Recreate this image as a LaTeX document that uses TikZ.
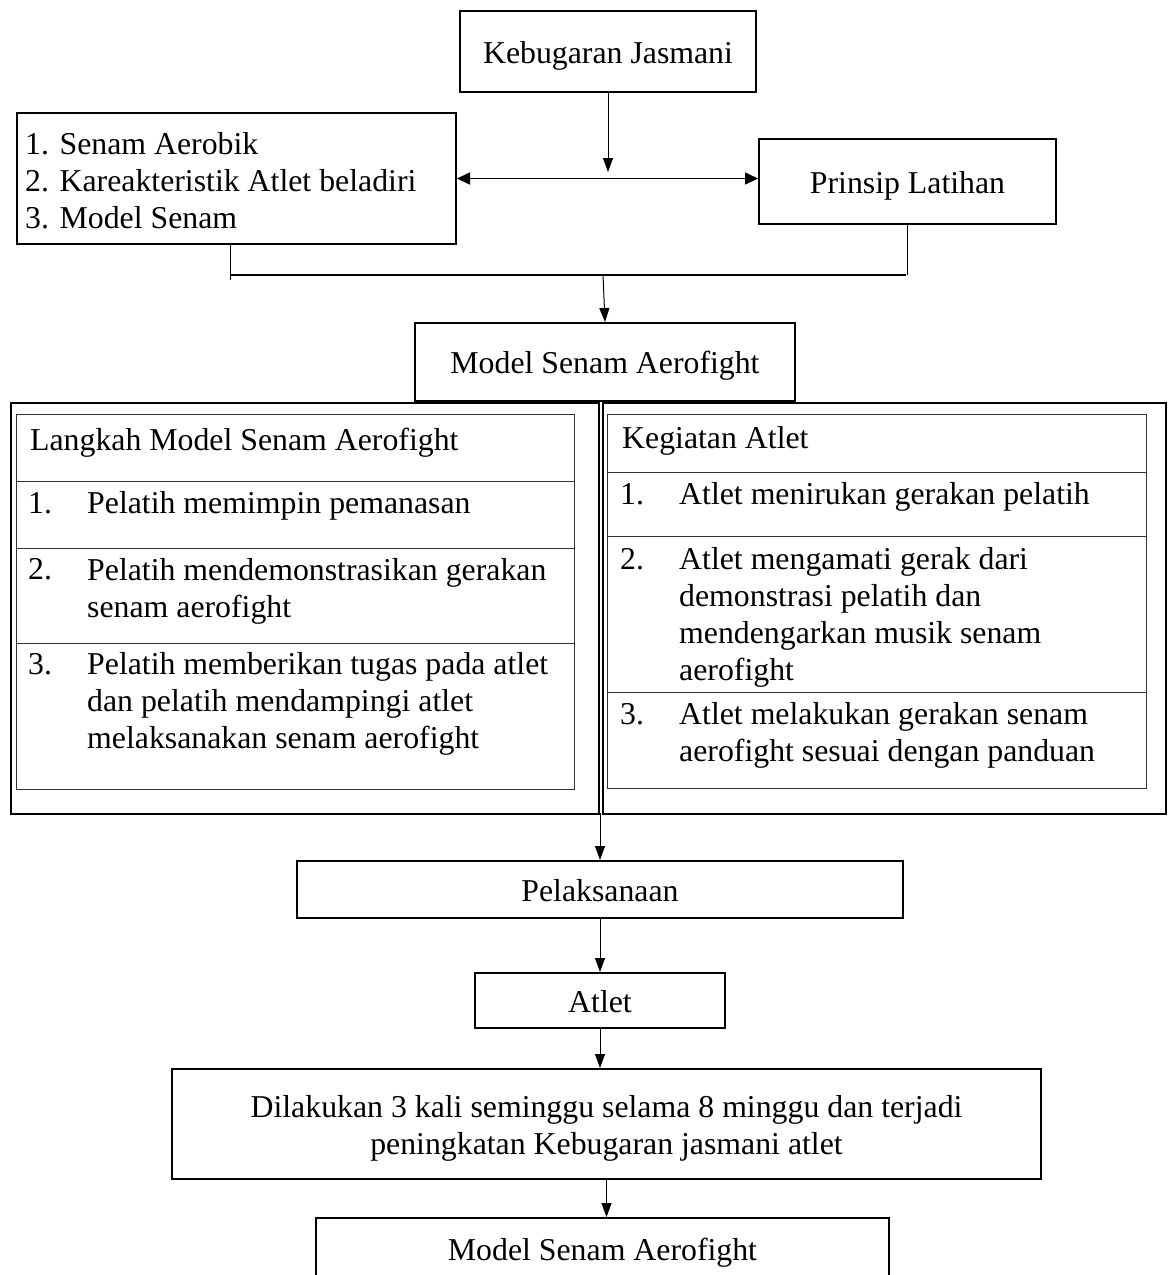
\documentclass[tikz,border=0pt]{standalone}
\usepackage{fontspec}
\setmainfont{Liberation Serif}
\usetikzlibrary{arrows.meta}
\newcommand\fs{\fontsize{31.8}{37}\selectfont}
\newcommand\st{\rule[-7pt]{0pt}{37pt}}
\begin{document}
\begin{tikzpicture}[x=1pt,y=-1pt,font=\fs,
  box/.style={draw, line width=2pt, inner sep=0pt, anchor=north west},
  obox/.style={draw, line width=2.4pt, inner sep=0pt, anchor=north west},
  cell/.style={draw=black!80, line width=1.3pt, inner sep=0pt, anchor=north west},
  txt/.style={inner sep=0pt, anchor=west, align=left},
  arr/.style={-{Triangle[length=14pt,width=10pt]}, line width=1pt},
  darr/.style={{Triangle[length=13pt,width=12pt]}-{Triangle[length=13pt,width=12pt]}, line width=1.6pt},
  ln/.style={line width=1pt},
  hln/.style={line width=2pt}]
\useasboundingbox (0,0) rectangle (1168,1275);
\clip (0,0) rectangle (1168,1275);
\fill[white] (0,0) rectangle (1168,1275);

% top
\node[box, minimum width=296, minimum height=81] (kj) at (459,10) {\st Kebugaran Jasmani};
\node[box, minimum width=439, minimum height=131] (lst) at (16,112) {};
\node[txt] (lsttxt) at (25,180) {\st 1. Senam Aerobik\\\st 2. Kareakteristik Atlet beladiri\\\st 3. Model Senam};
\node[box, minimum width=297, minimum height=85] (pl) at (758,138) {\st Prinsip Latihan};

\coordinate (j1) at (606,172);
\draw[arr] (kj.south) -- (kj.south |- j1);
\draw[darr] (lst.east) -- (lst.east -| pl.west);

\coordinate (b1) at (230,275);
\coordinate (b2) at (906,275);
\draw[ln] (b1 |- lst.south) -- ++(0,35);
\draw[ln] (pl.south) -- (pl.south |- b2);
\draw[hln] (b1) -- (b2);

\node[box, minimum width=380, minimum height=78] (msa) at (414,322) {\st Model Senam Aerofight};
\coordinate (b3) at (603,275);
\draw[arr] (b3) -- (msa.north);

% outer containers
\node[obox, minimum width=588, minimum height=411] (ol) at (10,402) {};
\node[obox, minimum width=563, minimum height=411] (orr) at (602,402) {};

% left table
\node[cell, minimum width=558, minimum height=67] (l0) at (16,414) {};
\node[cell, minimum width=558, minimum height=67] (l1) at (16,481) {};
\node[cell, minimum width=558, minimum height=95] (l2) at (16,548) {};
\node[cell, minimum width=558, minimum height=146] (l3) at (16,643) {};
\node[txt] (l0t) at (30,439) {\st Langkah Model Senam Aerofight};
\node[txt] (l1n) at (28,502) {\st 1.};
\node[txt] (l1t) at (87,502) {\st Pelatih memimpin pemanasan};
\node[txt] (l2n) at (28,568) {\st 2.};
\node[txt] (l2t) at (87,587) {\st Pelatih mendemonstrasikan gerakan\\\st senam aerofight};
\node[txt] (l3n) at (28,663) {\st 3.};
\node[txt] (l3t) at (87,700) {\st Pelatih memberikan tugas pada atlet\\\st dan pelatih mendampingi atlet\\\st melaksanakan senam aerofight};

% right table
\node[cell, minimum width=539, minimum height=58] (r0) at (607,414) {};
\node[cell, minimum width=539, minimum height=64] (r1) at (607,472) {};
\node[cell, minimum width=539, minimum height=156] (r2) at (607,536) {};
\node[cell, minimum width=539, minimum height=96] (r3) at (607,692) {};
\node[txt] (r0t) at (622,437) {\st Kegiatan Atlet};
\node[txt] (r1n) at (620,493) {\st 1.};
\node[txt] (r1t) at (679,493) {\st Atlet menirukan gerakan pelatih};
\node[txt] (r2n) at (620,558) {\st 2.};
\node[txt] (r2t) at (679,613) {\st Atlet mengamati gerak dari\\\st demonstrasi pelatih dan\\\st mendengarkan musik senam\\\st aerofight};
\node[txt] (r3n) at (620,713) {\st 3.};
\node[txt] (r3t) at (679,731) {\st Atlet melakukan gerakan senam\\\st aerofight sesuai dengan panduan};

% bottom chain
\coordinate (g) at (600,813);
\node[box, minimum width=606, minimum height=57] (pel) at (296,860) {\st Pelaksanaan};
\draw[arr] (g) -- (pel.north);
\node[box, minimum width=250, minimum height=55] (atl) at (474,972) {\st Atlet};
\draw[arr] (pel.south) -- (atl.north);
\node[box, minimum width=869, minimum height=110, align=center] (dil) at (171,1068) {\st Dilakukan 3 kali seminggu selama 8 minggu dan terjadi\\\st peningkatan Kebugaran jasmani atlet};
\draw[arr] (atl.south) -- (atl.south |- dil.north);
\node[box, minimum width=573, minimum height=62] (fin) at (315,1217) {\st Model Senam Aerofight};
\draw[arr] (dil.south) -- (dil.south |- fin.north);
\end{tikzpicture}
\end{document}
